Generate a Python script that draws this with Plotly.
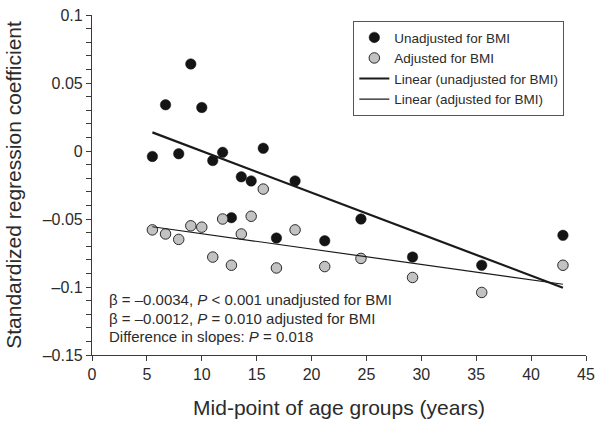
import plotly.graph_objects as go

# Mid-point of age groups (years)
age_mid = [5.5, 6.7, 7.9, 9.0, 10.0, 11.0, 11.9, 12.7, 13.6, 14.5, 15.6, 16.8, 18.5, 21.2, 24.5, 29.2, 35.5, 42.9]
# Standardized regression coefficients
unadjusted = [-0.004, 0.034, -0.002, 0.064, 0.032, -0.007, -0.001, -0.049, -0.019, -0.022, 0.002, -0.064,
              -0.022, -0.066, -0.050, -0.078, -0.084, -0.062]
adjusted = [-0.058, -0.061, -0.065, -0.055, -0.056, -0.078, -0.050, -0.084, -0.061, -0.048, -0.028, -0.086,
            -0.058, -0.085, -0.079, -0.093, -0.104, -0.084]
# Linear trend endpoints
trend_x = [5.5, 42.9]
trend_unadj = [0.0137, -0.1005]
trend_adj = [-0.0557, -0.098]

y_tickvals = [0.1, 0.05, 0, -0.05, -0.1, -0.15]
y_ticktext = ["0.1", "0.05", "0", "\u20130.05", "\u20130.1", "\u20130.15"]
x_tickvals = [0, 5, 10, 15, 20, 25, 30, 35, 40, 45]

stat_lines = [
    "\u03b2 = \u20130.0034, <i>P</i> &lt; 0.001 unadjusted for BMI",
    "\u03b2 = \u20130.0012, <i>P</i> = 0.010 adjusted for BMI",
    "Difference in slopes: <i>P</i> = 0.018",
]

FONT = "Liberation Sans, Arial, sans-serif"
AX = "#3a3a3a"
TXT = "#2b2b2b"

fig = go.Figure()
fig.add_trace(go.Scatter(x=age_mid, y=unadjusted, mode="markers", name="Unadjusted for BMI",
                         marker=dict(size=10.5, color="#141414", line=dict(color="#141414", width=0.5))))
fig.add_trace(go.Scatter(x=age_mid, y=adjusted, mode="markers", name="Adjusted for BMI",
                         marker=dict(size=10.5, color="#c2c2c2", line=dict(color="#2a2a2a", width=1))))
fig.add_trace(go.Scatter(x=trend_x, y=trend_unadj, mode="lines", name="Linear (unadjusted for BMI)",
                         line=dict(color="#1a1a1a", width=2.2)))
fig.add_trace(go.Scatter(x=trend_x, y=trend_adj, mode="lines", name="Linear (adjusted for BMI)",
                         line=dict(color="#1a1a1a", width=1.2)))

for i, line in enumerate(stat_lines):
    fig.add_annotation(
        x=0.031, y=0.1618 - i * 0.054, xref="paper", yref="paper", xanchor="left", yanchor="middle",
        align="left", showarrow=False, text=line,
        font=dict(family=FONT, size=15, color=TXT),
    )

fig.update_layout(
    width=600, height=424,
    margin=dict(l=92, r=14, t=15, b=69),
    paper_bgcolor="white", plot_bgcolor="white",
    font=dict(family=FONT, color=TXT),
    showlegend=True,
    legend=dict(x=0.529, y=0.982, xanchor="left", yanchor="top",
                bordercolor="#555555", borderwidth=1, bgcolor="white",
                font=dict(family=FONT, size=13.5, color=TXT),
                tracegroupgap=0),
    xaxis=dict(range=[0, 45], tickvals=x_tickvals, ticks="outside", ticklen=5, tickwidth=1,
               tickcolor=AX, showline=True, linecolor=AX, linewidth=1.2, showgrid=False,
               zeroline=False, automargin=False, tickfont=dict(size=16, color=TXT),
               title=dict(text="Mid-point of age groups (years)", font=dict(size=21, color=TXT), standoff=18)),
    yaxis=dict(range=[-0.15, 0.1], tickvals=y_tickvals, ticktext=y_ticktext, ticks="outside",
               ticklen=5, tickwidth=1, tickcolor=AX, showline=True, linecolor=AX, linewidth=1.2,
               showgrid=False, zeroline=False, automargin=False, ticklabeloverflow="allow",
               tickfont=dict(size=16, color=TXT),
               minor=dict(dtick=0.01, tick0=0, ticks="outside", ticklen=5, tickwidth=1, tickcolor=AX, showgrid=False),
               title=dict(text="Standardized regression coefficient", font=dict(size=21, color=TXT), standoff=15)),
)

# remove the default 8px page margin so the 600x424 figure fills the window exactly
fig.write_html("out.html", config={"displayModeBar": False},
               post_script="document.body.style.margin='0px';")
